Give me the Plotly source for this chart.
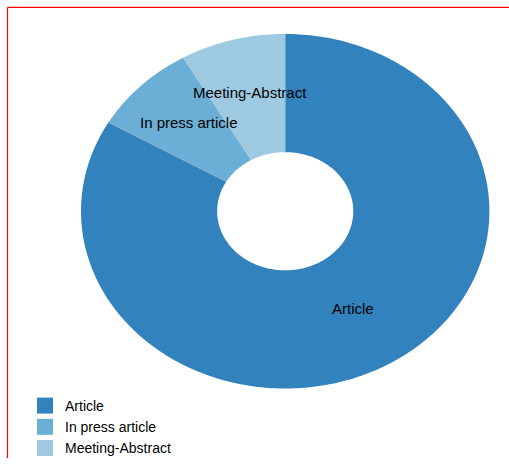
import numpy as np
import plotly.graph_objects as go

# ---- data ----
categories = ["Article", "In press article", "Meeting-Abstract"]
values = [10, 1, 1]
colors = ["#3182bd", "#6baed6", "#9ecae1"]
HOLE = 1 / 3

fig = go.Figure()

total = float(sum(values))
# d3-style layout: start at 12 o'clock and go clockwise
ends = np.cumsum(values) / total * 2 * np.pi
starts = np.concatenate([[0.0], ends[:-1]])

annotations = []
for cat, val, col, a0, a1 in zip(categories, values, colors, starts, ends):
    n = max(int((a1 - a0) / (2 * np.pi) * 360), 8)
    t = np.linspace(a0, a1, n)
    xs = np.concatenate([np.sin(t), HOLE * np.sin(t[::-1])])
    ys = np.concatenate([np.cos(t), HOLE * np.cos(t[::-1])])
    xs = np.append(xs, xs[0])
    ys = np.append(ys, ys[0])
    fig.add_trace(go.Scatter(
        x=xs, y=ys, mode="none", fill="toself", fillcolor=col,
        name=cat, legendgroup=cat, showlegend=False, hoverinfo="name",
    ))
    mid = (a0 + a1) / 2
    rmid = (1 + HOLE) / 2
    annotations.append(dict(
        x=rmid * np.sin(mid), y=rmid * np.cos(mid), xref="x", yref="y",
        text=cat, showarrow=False, xanchor="center", yanchor="middle",
        yshift=5, font=dict(family="Liberation Sans, Arial", size=15, color="#000"),
    ))

# legend entries
for cat, col in zip(categories, colors):
    fig.add_trace(go.Scatter(
        x=[None], y=[None], mode="markers", name=cat, legendgroup=cat,
        marker=dict(symbol="square", size=16, color=col),
    ))

W, H = 509, 464
cx, cy, rx, ry = 285.2, 214.0, 204.2, 179.6

fig.update_layout(
    width=W, height=H,
    margin=dict(l=0, r=0, t=0, b=0),
    paper_bgcolor="white", plot_bgcolor="white",
    xaxis=dict(range=[-cx / rx, (W - cx) / rx], visible=False, fixedrange=True),
    yaxis=dict(range=[-(H - cy) / ry, cy / ry], visible=False, fixedrange=True),
    annotations=annotations,
    showlegend=True,
    legend=dict(
        x=25 / W, xanchor="left", y=1 - 433 / H, yanchor="middle",
        font=dict(family="Liberation Sans, Arial", size=14, color="#000"),
        itemsizing="trace", bgcolor="rgba(0,0,0,0)", tracegroupgap=0,
    ),
    shapes=[
        dict(type="line", xref="paper", yref="paper",
             x0=7.5 / W, x1=1, y0=1 - 7.5 / H, y1=1 - 7.5 / H,
             line=dict(color="#ff0000", width=1.2)),
        dict(type="line", xref="paper", yref="paper",
             x0=7.5 / W, x1=7.5 / W, y0=1 - 7.5 / H, y1=0,
             line=dict(color="#ff0000", width=1.2)),
    ],
)

# pin the graph to the top-left corner of the page (no default body margin)
post = ("document.body.style.margin='0';"
        "var d=document.getElementById('{plot_id}');"
        "d.style.position='fixed';d.style.left='0';d.style.top='0';")

fig.write_html("out.html", post_script=post, config={"displayModeBar": False})
